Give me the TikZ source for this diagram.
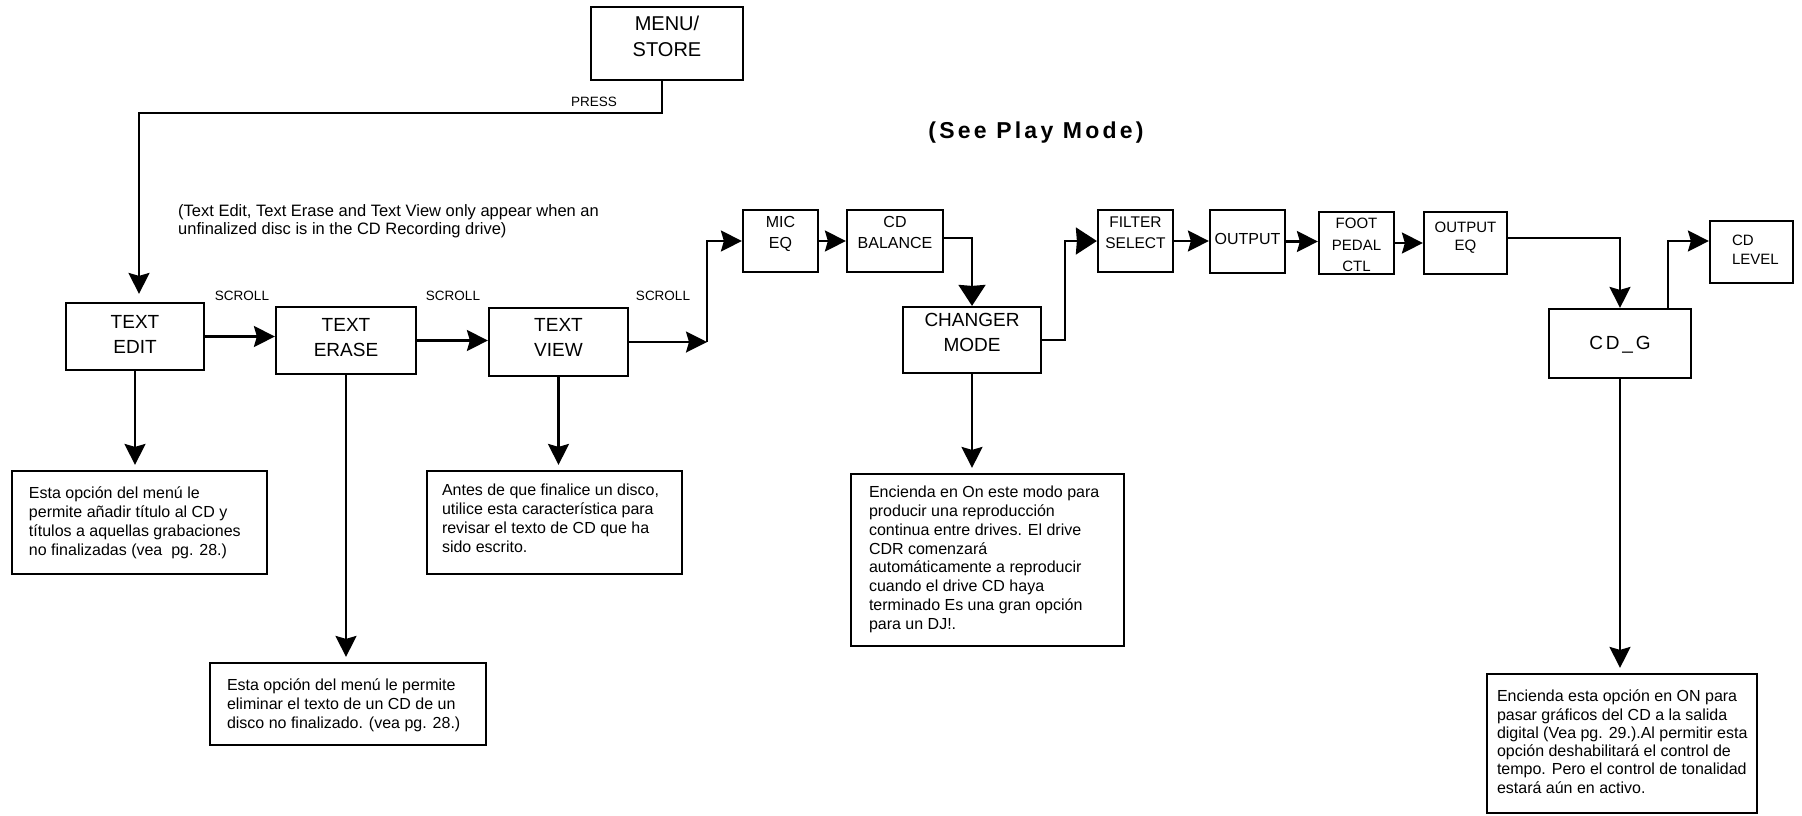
\documentclass[tikz,border=0pt]{standalone}
\usepackage{fontspec}
\setmainfont{Liberation Sans}
\usetikzlibrary{arrows.meta}

% fixed-size cell: width, height, first baseline, lines
\newcommand{\boxlines}[4]{\parbox[c][#2][t]{#1}{\centering\rule{0pt}{#3}#4}}
% left-aligned cell: width, height, first baseline, left pad, lines
\newcommand{\notelines}[5]{\parbox[c][#2][t]{#1}{\raggedright\leftskip=#4\relax\rule{0pt}{#3}#5}}

\tikzset{
  keybox/.style={draw, line width=2.2pt, inner sep=0pt},
  bigkey/.style={keybox, font=\fontsize{19}{25}\selectfont},
  smallkey/.style={keybox, font=\fontsize{16}{21}\selectfont},
  notebox/.style={draw, line width=2.2pt, inner sep=0pt, font=\fontsize{16}{18.8}\selectfont},
  flow/.style={line width=2.2pt, -{Stealth[length=21pt,width=21pt,inset=3pt]}},
  bigflow/.style={line width=2.2pt, -{Stealth[length=21pt,width=27pt,inset=1pt]}},
  tag/.style={font=\fontsize{13.5}{16}\selectfont, inner sep=0pt},
}

\begin{document}
\begin{tikzpicture}[x=1pt, y=-1pt]
\useasboundingbox (0,0) rectangle (1802,815);

% Menu key
\node[keybox, font=\fontsize{20}{26}\selectfont] (menu) at (667,43.5) {\boxlines{152pt}{73pt}{23pt}{MENU/\\STORE}};

% Text keys
\node[bigkey] (textedit) at (135,336.5) {\boxlines{138pt}{67pt}{25.4pt}{TEXT\\EDIT}};
\node[bigkey] (texterase) at (346,340.5) {\boxlines{140pt}{67pt}{24.4pt}{TEXT\\ERASE}};
\node[bigkey] (textview) at (558.5,342) {\boxlines{139pt}{68pt}{23.4pt}{TEXT\\VIEW}};

% Play mode keys
\node[smallkey] (miceq) at (780.5,241) {\boxlines{75pt}{62pt}{17.7pt}{MIC\\EQ}};
\node[smallkey] (cdbal) at (895,241) {\boxlines{96pt}{62pt}{17.7pt}{CD\\BALANCE}};
\node[bigkey] (changer) at (972,340) {\boxlines{138pt}{66pt}{19.4pt}{CHANGER\\MODE}};
\node[keybox, font=\fontsize{15.5}{21}\selectfont] (filter) at (1135.5,241) {\boxlines{75pt}{62pt}{17.5pt}{FILTER\\SELECT}};
\node[smallkey] (output) at (1247.5,241.5) {\boxlines{75pt}{63pt}{34.7pt}{OUTPUT}};
\node[keybox, font=\fontsize{15}{21.5}\selectfont] (foot) at (1356.5,243) {\boxlines{75pt}{62pt}{16.5pt}{FOOT\\PEDAL\\CTL}};
\node[keybox, font=\fontsize{15}{17.5}\selectfont] (outeq) at (1465.5,243) {\boxlines{83pt}{62pt}{20.5pt}{OUTPUT\\EQ}};
\node[keybox, font=\fontsize{19}{25}\selectfont\addfontfeature{LetterSpace=15}] (cdg) at (1620,343.5) {\boxlines{142pt}{69pt}{40pt}{CD\_G}};
\node[keybox, font=\fontsize{15}{19}\selectfont] (cdlevel) at (1751.5,252) {\notelines{83pt}{62pt}{24.7pt}{22pt}{CD\\LEVEL}};

% Descriptions
\node[notebox] (editdesc) at (139.5,522.5) {\notelines{255pt}{103pt}{27.7pt}{17pt}{Esta opción del menú le\\permite añadir título al CD y\\títulos a aquellas grabaciones\\no finalizadas (vea~ pg. 28.)}};
\node[notebox] (erasedesc) at (348,704) {\notelines{276pt}{82pt}{27.7pt}{17pt}{Esta opción del menú le permite\\eliminar el texto de un CD de un\\disco no finalizado. (vea pg. 28.)}};
\node[notebox] (viewdesc) at (554.5,522.5) {\notelines{255pt}{103pt}{24.7pt}{15pt}{Antes de que finalice un disco,\\utilice esta característica para\\revisar el texto de CD que ha\\sido escrito.}};
\node[notebox] (changerdesc) at (987.5,560) {\notelines{273pt}{172pt}{23.7pt}{18pt}{Encienda en On este modo para\\producir una reproducción\\continua entre drives. El drive\\CDR comenzará\\automáticamente a reproducir\\cuando el drive CD haya\\terminado Es una gran opción\\para un DJ!.}};
\node[notebox, font=\fontsize{16}{18.3}\selectfont] (cdgdesc) at (1622,743.5) {\notelines{270pt}{139pt}{27.7pt}{10pt}{Encienda esta opción en ON para\\pasar gráficos del CD a la salida\\digital (Vea pg. 29.).Al permitir esta\\opción deshabilitará el control de\\tempo. Pero el control de tonalidad\\estará aún en activo.}};

% Labels
\node[font=\fontsize{23}{27}\selectfont\bfseries\addfontfeature{LetterSpace=14}] (playmode) at (1036,133) {(See Play Mode)};
\node[font=\fontsize{16.5}{18}\selectfont, anchor=west, align=left, inner sep=0pt] (hint) at (178,221) {(Text Edit, Text Erase and Text View only appear when an\\unfinalized disc is in the CD Recording drive)};
\node[tag] (presslbl) at (594,102) {PRESS};
\foreach \x/\n in {242/1, 453/2, 663/3}
  \node[tag] (scroll\n) at (\x,296) {SCROLL};

% Press path
\coordinate (press) at (139,113);
\draw[flow, shorten >=8pt] ([xshift=-5pt]menu.south) |- (press) -- (press |- textedit.north);

% Scroll chain
\draw[flow] (textedit.east) -- (textedit.east -| texterase.west);
\draw[flow] (texterase.east) -- (texterase.east -| textview.west);
\coordinate (viewturn) at (707,342);
\draw[flow] (textview.east) -- (viewturn);
\draw[flow] (viewturn) |- (miceq.west);
\draw[flow] (miceq.east) -- (cdbal.west);
\draw[bigflow] ([yshift=3pt]cdbal.east) -| (changer.north);
\draw[bigflow] (changer.east) -- ++(23,0) |- (filter.west);
\draw[flow] (filter.east) -- (filter.east -| output.west);
\draw[flow] (output.east) -- (output.east -| foot.west);
\draw[flow] (foot.east) -- (outeq.west);
\draw[flow] ([yshift=5pt]outeq.east) -| (cdg.north);
\draw[flow] ([xshift=48pt]cdg.north) |- ([yshift=11pt]cdlevel.west);

% Down to the descriptions
\foreach \a/\b in {textedit/editdesc, texterase/erasedesc, textview/viewdesc, changer/changerdesc, cdg/cdgdesc}
  \draw[flow, shorten >=5pt] (\a.south) -- (\a.south |- \b.north);
\end{tikzpicture}
\end{document}
